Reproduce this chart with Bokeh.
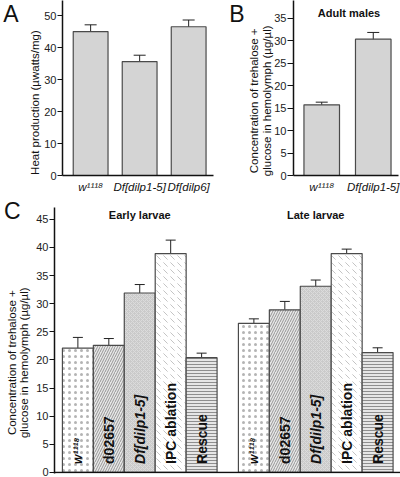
import numpy as np
from bokeh.plotting import figure
from bokeh.models import (Range1d, FixedTicker, Whisker, TeeHead, ColumnDataSource,
                          Label, LinearAxis, Span)
from bokeh.layouts import column, row
from bokeh.embed import file_html
from bokeh.resources import INLINE
from bokeh.core.properties import value

FONT = "Liberation Sans"

# ---------------- data ----------------
panel_letters = ["A", "B", "C"]

a_labels = ["w¹¹¹⁸", "Df[dilp1-5]", "Df[dilp6]"]
a_values = [45.0, 35.6, 46.5]
a_errors = [2.1, 2.0, 2.1]
a_ticks = [0, 10, 20, 30, 40, 50]
a_ylabel = "Heat production (µwatts/mg)"

b_title = "Adult males"
b_labels = ["w¹¹¹⁸", "Df[dilp1-5]"]
b_values = [15.7, 30.3]
b_errors = [0.6, 1.5]
b_ticks = [0, 5, 10, 15, 20, 25, 30, 35]

conc_label = ["Concentration of trehalose +", "glucose in hemolymph (µg/µl)"]

c_genotypes = ["w¹¹¹⁸", "d02657", "Df[dilp1-5]", "IPC ablation", "Rescue"]
c_groups = ["Early larvae", "Late larvae"]
c_early = [22.1, 22.6, 31.9, 38.9, 20.4]
c_early_err = [1.9, 1.2, 1.5, 2.4, 0.8]
c_late = [26.5, 28.9, 33.1, 38.9, 21.3]
c_late_err = [0.8, 1.5, 1.1, 0.8, 0.85]
c_ticks = [0, 5, 10, 15, 20, 25, 30, 35, 40, 45]

# ---------------- styles ----------------
BAR_FILL = "#d4d4d4"
BAR_LINE = "#4a4a4a"
c_fill = ["white", "#e8e8e8", "#cacaca", "white", "#e6e6e6"]
c_hatch = ["dot", "right_diagonal_line", "diagonal_cross", "left_diagonal_dash", "horizontal_line"]
c_hatch_color = ["#b4b4b4", "#959595", "#dcdcdc", "#c4c4c4", "#8e8e8e"]
c_hatch_scale = [6, 5, 4, 7, 3]
c_font_style = ["bold italic", "bold", "bold italic", "bold", "bold"]
c_font_size = ["12px", "14px", "14px", "14px", "14px"]
GROUP_GAP = 0.69


def base_fig(width, height, xr, yr, bl, br, bt, bb):
    p = figure(width=width, height=height, x_range=xr, y_range=yr,
               output_backend="svg", toolbar_location=None, tools="")
    p.min_border_left = bl
    p.min_border_right = br
    p.min_border_top = bt
    p.min_border_bottom = bb
    p.outline_line_color = None
    p.xgrid.visible = False
    p.ygrid.visible = False
    p.background_fill_color = "white"
    p.border_fill_color = "white"
    return p


def style_y(p, ticks, tick_len):
    ax = p.yaxis[0]
    ax.ticker = FixedTicker(ticks=ticks)
    ax.minor_tick_line_color = None
    ax.major_tick_in = 0
    ax.major_tick_out = tick_len
    ax.axis_line_width = 1.5
    ax.axis_line_color = "#111111"
    ax.major_tick_line_color = "#111111"
    ax.major_label_text_font = FONT
    ax.major_label_text_font_size = "11px"
    ax.major_label_text_color = "#222222"
    ax.major_label_standoff = 1


def style_x(p, ticks, overrides):
    ax = p.xaxis[0]
    ax.ticker = FixedTicker(ticks=ticks)
    ax.minor_tick_line_color = None
    ax.major_tick_in = 0
    ax.major_tick_out = 0
    ax.axis_line_width = 1.5
    ax.axis_line_color = "#111111"
    ax.major_label_overrides = overrides
    ax.major_label_text_font = FONT
    ax.major_label_text_font_style = "italic"
    ax.major_label_text_font_size = "11.5px"
    ax.major_label_text_color = "#111111"
    ax.major_label_standoff = 5


def text_axis(p, y, text, size, standoff, orientation="parallel"):
    """An extra left axis used only to place a text (y label, panel letter) in the left border."""
    ax = LinearAxis(ticker=FixedTicker(ticks=[y]), major_label_overrides={y: text},
                    axis_line_color=None, major_tick_line_color=None,
                    minor_tick_line_color=None, major_tick_in=0, major_tick_out=0,
                    major_label_standoff=standoff, major_label_orientation=orientation,
                    major_label_text_font=FONT, major_label_text_font_size=size,
                    major_label_text_color="#111111")
    p.add_layout(ax, "left")


def add_whiskers(p, src, head):
    w = Whisker(source=src, base="x", upper="upper", lower="lower",
                line_color="#222222", line_width=1,
                upper_head=TeeHead(size=head, line_color="#222222", line_width=1),
                lower_head=TeeHead(size=head, line_color="#222222", line_width=1))
    p.add_layout(w)


def label(p, x, y, text, size, style="normal"):
    p.add_layout(Label(x=x, y=y, text=text, text_font=FONT, text_font_size=size,
                       text_font_style=style, text_align="center",
                       text_baseline="middle", text_color="#111111"))


def err_source(xs, vals, errs, **extra):
    d = dict(x=xs, top=vals,
             upper=[v + e for v, e in zip(vals, errs)],
             lower=[v - e for v, e in zip(vals, errs)])
    d.update(extra)
    return ColumnDataSource(d)


# ---------------- panel A ----------------
a_x = list(range(1, len(a_values) + 1))
pa = base_fig(226, 197, Range1d(0.426, 3.507), Range1d(0, 54.7), 52, 13, 0, 22)
src_a = err_source(a_x, a_values, a_errors)
pa.vbar(x="x", top="top", width=0.71, bottom=0, source=src_a,
        fill_color=BAR_FILL, line_color=BAR_LINE, line_width=1.2)
add_whiskers(pa, src_a, 12)
style_y(pa, a_ticks, 5)
style_x(pa, a_x, {i: l for i, l in zip(a_x, a_labels)})
text_axis(pa, 22.8, a_ylabel, "11.5px", 0)
text_axis(pa, 50.6, panel_letters[0], "23px", 8, orientation="horizontal")

# ---------------- panel B ----------------
b_x = list(range(1, len(b_values) + 1))
pb = base_fig(174, 197, Range1d(0.452, 2.49), Range1d(0, 38.9), 66, 2, 0, 22)
src_b = err_source(b_x, b_values, b_errors)
pb.vbar(x="x", top="top", width=0.69, bottom=0, source=src_b,
        fill_color=BAR_FILL, line_color=BAR_LINE, line_width=1.2)
add_whiskers(pb, src_b, 12)
style_y(pb, b_ticks, 6)
style_x(pb, b_x, {i: l for i, l in zip(b_x, b_labels)})
text_axis(pb, 16.6, conc_label[1], "11.5px", -2)
text_axis(pb, 16.6, conc_label[0], "11.5px", -2)
text_axis(pb, 35.9, panel_letters[1], "23px", 1, orientation="horizontal")
label(pb, 1.53, 36.2, b_title, "11px", style="bold")

# ---------------- panel C ----------------
n = len(c_genotypes)
early_x = [i + 1 for i in range(n)]
late_x = [i + 1 + n + GROUP_GAP for i in range(n)]
pc = base_fig(400, 280, Range1d(0.244, 11.43), Range1d(-0.2, 47.1), 52, 0, 10, 4)
for xs, vals, errs in ((early_x, c_early, c_early_err), (late_x, c_late, c_late_err)):
    src = err_source(xs, vals, errs,
                     fill=c_fill, hatch=c_hatch, hcolor=c_hatch_color, hscale=c_hatch_scale,
                     name=c_genotypes, fstyle=c_font_style, fsize=c_font_size,
                     ty=[1.5] * n)
    pc.vbar(x="x", top="top", width=1.0, bottom=0, source=src,
            fill_color="fill", hatch_pattern="hatch", hatch_color="hcolor",
            hatch_scale="hscale", hatch_weight=1,
            line_color=BAR_LINE, line_width=1.2)
    add_whiskers(pc, src, 10)
    pc.text(x="x", y="ty", text="name", source=src, angle=np.pi / 2,
            text_font=value(FONT), text_font_size="fsize", text_font_style="fstyle",
            text_align="left", text_baseline="middle", text_color="#111111")

style_y(pc, c_ticks, 5)
pc.xaxis.visible = False
pc.add_layout(Span(location=0, dimension="width", line_color="#111111", line_width=1.5))
text_axis(pc, 19.5, conc_label[1], "11.5px", 3)
text_axis(pc, 19.5, conc_label[0], "11.5px", -3)
text_axis(pc, 46.6, panel_letters[2], "23px", -17, orientation="horizontal")
label(pc, float(np.mean(early_x)), 45.7, c_groups[0], "11px", style="bold")
label(pc, float(np.mean(late_x)), 45.7, c_groups[1], "11px", style="bold")

layout = column(row(pa, pb, spacing=0), pc, spacing=0)
open("out.html", "w").write(file_html(layout, INLINE))
